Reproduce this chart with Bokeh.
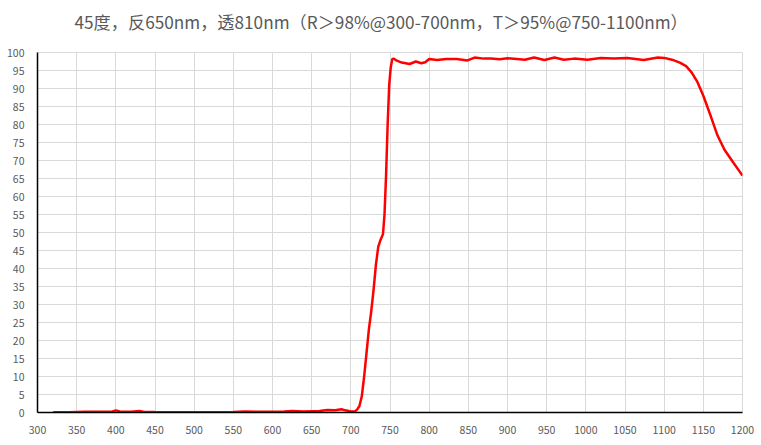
from bokeh.plotting import figure
from bokeh.models import FixedTicker, Range1d, Title
from bokeh.embed import file_html
from bokeh.resources import INLINE

title_text = "45度，反650nm，透810nm（R＞98%@300-700nm，T＞95%@750-1100nm）"

wavelength = [320, 340, 360, 380, 395, 400, 405, 420, 430, 435, 450, 500, 550, 565, 580,
              600, 615, 625, 640, 660, 670, 680, 688, 693, 700, 705, 708, 711, 714, 717,
              720, 723, 726, 729, 732, 735, 738, 741, 743, 745, 747, 749, 751, 753, 755,
              758, 765, 775, 783, 790, 795, 800, 810, 822, 835, 849, 858, 870, 879, 890,
              900, 912, 922, 934, 947, 960, 972, 985, 1002, 1019, 1036, 1053, 1074, 1092,
              1100, 1110, 1120, 1128, 1135, 1142, 1150, 1160, 1168, 1177, 1188, 1200]
transmission = [0.1, 0.1, 0.2, 0.2, 0.2, 0.6, 0.3, 0.2, 0.4, 0.2, 0.15, 0.1, 0.15, 0.3, 0.2,
                0.2, 0.3, 0.4, 0.3, 0.4, 0.7, 0.6, 0.9, 0.6, 0.3, 0.3, 0.8, 1.8, 4.5, 10.0,
                16.5, 23.0, 28.0, 34.0, 41.0, 46.0, 48.0, 49.5, 55.0, 66.0, 80.0, 91.0, 96.0, 98.2, 98.3,
                97.8, 97.2, 96.8, 97.5, 97.0, 97.3, 98.2, 97.9, 98.2, 98.2, 97.8, 98.6, 98.3, 98.3, 98.1,
                98.4, 98.2, 98.0, 98.6, 97.9, 98.6, 98.0, 98.3, 98.0, 98.5, 98.3, 98.5, 97.9, 98.6,
                98.5, 98.0, 97.2, 96.2, 94.5, 92.0, 88.0, 82.0, 77.0, 73.0, 69.5, 65.8]

x_ticks = list(range(300, 1201, 50))
y_ticks = list(range(0, 101, 5))

FONT = "Noto Sans CJK SC"
TXT = "#595959"
GRID = "#d9d9d9"

p = figure(width=761, height=445, output_backend="svg", toolbar_location=None,
           x_range=Range1d(300, 1200), y_range=Range1d(0, 100),
           min_border_left=37, min_border_right=19, min_border_top=52, min_border_bottom=33)
p.background_fill_color = "white"
p.border_fill_color = "white"
p.outline_line_color = GRID

p.line(wavelength, transmission, line_color="#ff0000", line_width=2.5)

for ax, ticks in ((p.xaxis[0], x_ticks), (p.yaxis[0], y_ticks)):
    ax.ticker = FixedTicker(ticks=ticks)
    ax.axis_line_color = "black"
    ax.axis_line_width = 1.5
    ax.major_tick_line_color = None
    ax.minor_tick_line_color = None
    ax.major_label_text_color = TXT
    ax.major_label_text_font = FONT
    ax.major_label_text_font_size = "10.5px"
    ax.major_label_standoff = 7

p.xgrid.ticker = FixedTicker(ticks=x_ticks)
p.ygrid.ticker = FixedTicker(ticks=y_ticks)
p.grid.grid_line_color = GRID
p.grid.grid_line_width = 1

# spacer panel between the frame and the title
p.add_layout(Title(text=" ", text_font_size="1px", standoff=16), "above")
p.title.text = title_text
p.title.align = "left"
p.title.offset = 37
p.title.standoff = 0
p.title.text_font = FONT
p.title.text_font_size = "17.2px"
p.title.text_font_style = "normal"
p.title.text_color = TXT

open("out.html", "w").write(file_html(p, INLINE))
